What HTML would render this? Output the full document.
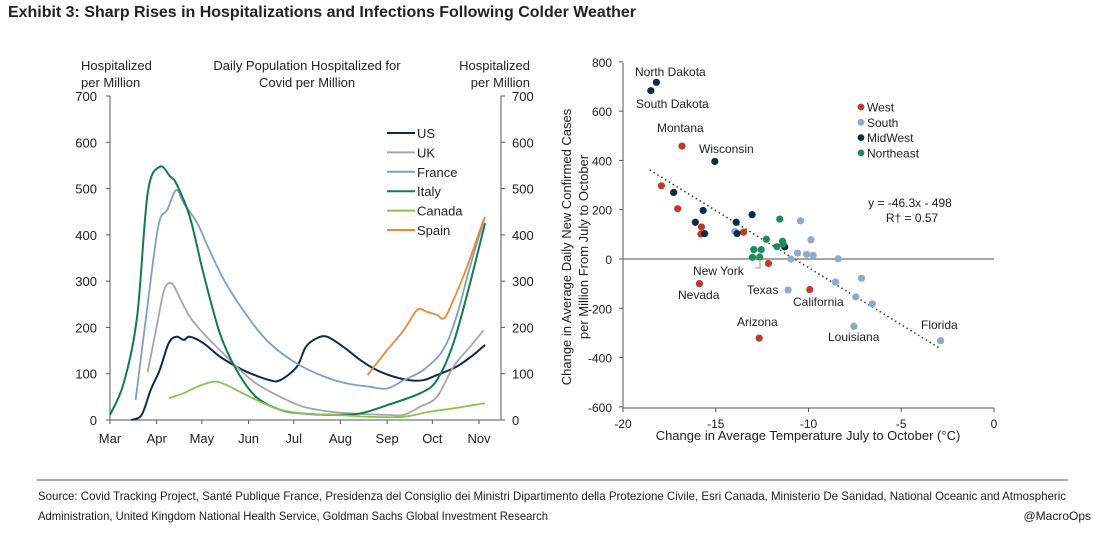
<!DOCTYPE html>
<html><head><meta charset="utf-8"><style>
body{margin:0;background:#fff;width:1094px;height:530px;overflow:hidden;font-family:"Liberation Sans",sans-serif;}
svg text{font-family:"Liberation Sans",sans-serif;fill:#222;}
</style></head><body>
<svg id="s" width="1094" height="530">
<text x="8" y="17" font-size="15.5" font-weight="bold" fill="#222" textLength="628" lengthAdjust="spacingAndGlyphs">Exhibit 3: Sharp Rises in Hospitalizations and Infections Following Colder Weather</text>
<g id="left"></g>
<g id="right"></g>
<line x1="37" y1="480" x2="1068" y2="480" stroke="#555" stroke-width="1"/>
<text x="38" y="500" font-size="12" textLength="1028" lengthAdjust="spacingAndGlyphs" fill="#333">Source: Covid Tracking Project, Santé Publique France, Presidenza del Consiglio dei Ministri Dipartimento della Protezione Civile, Esri Canada, Ministerio De Sanidad, National Oceanic and Atmospheric</text>
<text x="38" y="520" font-size="12" textLength="510" lengthAdjust="spacingAndGlyphs" fill="#333">Administration, United Kingdom National Health Service, Goldman Sachs Global Investment Research</text>
<text x="1091" y="520" font-size="12" text-anchor="end" fill="#555" font-family="Liberation Serif">@MacroOps</text>
</svg>
<script>
// ---- Left chart data (day index since Mar 1) ----
const months=["Mar","Apr","May","Jun","Jul","Aug","Sep","Oct","Nov"];
const monthDays=[0,31,61,92,122,153,184,214,245];
const yTicks=[0,100,200,300,400,500,600,700];
const seriesNames=["US","UK","France","Italy","Canada","Spain"];
const seriesColors=["#0f2a47","#a6a6a6","#7f9fc3","#157a50","#8cc152","#e8893a"];
const usDays=[14,21,27,33,39,44,49,53,62,73,84,93,106,113,124,130,137,144,155,166,177,188,199,208,217,230,241,249];
const usVals=[0,11,65,108,166,180,173,180,166,137,115,101,86,86,115,158,176,180,158,130,108,94,86,86,97,115,140,162];
const ukDays=[25,31,36,41,46,53,62,73,84,97,113,128,146,161,184,195,206,217,228,239,248];
const ukVals=[104,202,281,295,266,223,187,151,115,79,50,29,18,14,11,11,29,50,115,158,194];
const frDays=[17,24,32,38,44,49,58,66,77,93,106,124,142,157,172,184,195,208,221,230,239,249];
const frVals=[43,223,418,454,497,468,425,367,295,216,166,122,94,79,72,68,86,108,151,223,331,439];
const itDays=[0,9,18,25,33,40,44,53,62,73,84,97,113,128,150,166,184,206,217,228,239,249];
const itVals=[11,79,223,490,547,526,511,439,317,187,108,50,22,14,11,14,32,58,86,166,295,425];
const caDays=[39,49,58,69,77,88,102,113,128,150,172,195,212,228,241,249];
const caVals=[47,58,72,83,76,58,36,22,14,11,7,7,18,25,32,36];
const esDays=[171,184,195,204,210,217,222,228,237,248];
const esVals=[97,151,194,238,234,227,220,259,331,432];

// ---- Right chart data ----
const xTicksR=[-20,-15,-10,-5,0];
const yTicksR=[800,600,400,200,0,-200,-400,-600];
const regions=["West","South","MidWest","Northeast"];
const regionColors=["#c0392b","#8fa9cc","#0f2a47","#1e8a5a"];
const westX=[-16.82,-17.93,-17.05,-15.77,-15.8,-13.5,-12.16,-15.88,-12.66,-9.93];
const westY=[458,297,204,130,101,109,-18,-100,-321,-124];
const southX=[-13.97,-10.43,-9.87,-10.59,-10.1,-9.75,-10.95,-8.4,-8.54,-7.14,-7.45,-6.56,-7.55,-11.1,-2.88];
const southY=[112,155,78,24,19,15,0,1,-93,-78,-154,-182,-273,-126,-331];
const mwX=[-18.5,-18.2,-15.05,-17.27,-15.68,-16.1,-15.6,-13.9,-13.85,-13.04,-11.28];
const mwY=[683,717,396,270,197,149,103,149,103,180,49];
const neX=[-11.55,-12.27,-11.4,-11.7,-12.95,-12.55,-13.02,-12.63,-11.37];
const neY=[162,80,72,50,38,38,7,8,61];
const trendSlope=-46.3, trendIntercept=-498, trendRange=[-18.56,-2.91];

const NS="http://www.w3.org/2000/svg";
function mk(p,t,a){const e=document.createElementNS(NS,t);for(const k in a)e.setAttribute(k,a[k]);p.appendChild(e);return e;}
function txt(p,x,y,s,o){const e=mk(p,"text",Object.assign({x:x,y:y,"font-size":13},o||{}));e.textContent=s;return e;}
function smooth(P){let d="M"+P[0][0].toFixed(1)+","+P[0][1].toFixed(1);
 for(let i=0;i<P.length-1;i++){const p0=P[i-1]||P[i],p1=P[i],p2=P[i+1],p3=P[i+2]||p2;
  const c1=[p1[0]+(p2[0]-p0[0])/6,p1[1]+(p2[1]-p0[1])/6],c2=[p2[0]-(p3[0]-p1[0])/6,p2[1]-(p3[1]-p1[1])/6];
  d+=" C"+c1.map(v=>v.toFixed(1))+" "+c2.map(v=>v.toFixed(1))+" "+p2.map(v=>v.toFixed(1));}
 return d;}

// Left
const L=document.getElementById("left");
const lx=d=>110+d*(479-110)/245, ly=v=>420-v*324/700;
mk(L,"line",{x1:110,y1:96,x2:110,y2:420,stroke:"#555"});
mk(L,"line",{x1:501,y1:96,x2:501,y2:420,stroke:"#555"});
mk(L,"line",{x1:110,y1:420,x2:501,y2:420,stroke:"#555"});
yTicks.forEach(v=>{
 const t1=txt(L,97,ly(v)+5,String(v),{"text-anchor":"end"});
 
 
 const t2=txt(L,512,ly(v)+5,String(v));
 
 
 mk(L,"line",{x1:106,y1:ly(v),x2:110,y2:ly(v),stroke:"#555"});
 mk(L,"line",{x1:501,y1:ly(v),x2:505,y2:ly(v),stroke:"#555"});
});
months.forEach((m,i)=>{
 const t=txt(L,lx(monthDays[i]),443,m,{"text-anchor":"middle"});
 
 
 mk(L,"line",{x1:lx(monthDays[i]),y1:420,x2:lx(monthDays[i]),y2:424,stroke:"#555"});
});
[["Hospitalized",81,70,"start"],["per Million",81,87,"start"],["Daily Population Hospitalized for",307,70,"middle"],["Covid per Million",307,87,"middle"],["Hospitalized",530,70,"end"],["per Million",530,87,"end"]].forEach(a=>{
 const t=txt(L,a[1],a[2],a[0],{"text-anchor":a[3]});
 
 
});
const allD=[usDays,ukDays,frDays,itDays,caDays,esDays], allV=[usVals,ukVals,frVals,itVals,caVals,esVals];
seriesNames.forEach((n,i)=>{
 const P=allD[i].map((d,j)=>[lx(d),ly(allV[i][j])]);
 const pl=mk(L,"path",{d:smooth(P),fill:"none",stroke:seriesColors[i],"stroke-width":i==0||i==3?2:1.8,"stroke-linejoin":"round"});
 
 
 const y=133+i*19.4;
 const ln=mk(L,"line",{x1:387,y1:y,x2:415,y2:y,stroke:seriesColors[i],"stroke-width":2});
 
 
 const t=txt(L,417,y+5,n);
 
 
});

// Right
const R=document.getElementById("right");
const rx=v=>994+v*(994-623)/20, ry=v=>259-v*(408-63)/1400;
mk(R,"line",{x1:623,y1:63,x2:623,y2:408,stroke:"#555"});
mk(R,"line",{x1:623,y1:408,x2:994,y2:408,stroke:"#555"});
mk(R,"line",{x1:623,y1:ry(0),x2:994,y2:ry(0),stroke:"#888","stroke-width":1.5});
yTicksR.forEach(v=>{
 const t=txt(R,612,ry(v)+5,String(v),{"text-anchor":"end","font-size":12});
 
 
 mk(R,"line",{x1:619,y1:ry(v),x2:623,y2:ry(v),stroke:"#555"});
});
xTicksR.forEach(v=>{
 const t=txt(R,rx(v),428,String(v),{"text-anchor":"middle","font-size":12});
 
 
 mk(R,"line",{x1:rx(v),y1:408,x2:rx(v),y2:412,stroke:"#555"});
});
const xt=txt(R,808,440,"Change in Average Temperature July to October (°C)",{"text-anchor":"middle"});


const yt1=txt(R,0,0,"Change in Average Daily New Confirmed Cases",{"text-anchor":"middle","transform":"translate(571,247) rotate(-90)"});


const yt2=txt(R,0,0,"per Million From July to October",{"text-anchor":"middle","transform":"translate(588,247) rotate(-90)"});


const tr=mk(R,"line",{x1:rx(trendRange[0]),y1:ry(trendSlope*trendRange[0]+trendIntercept),x2:rx(trendRange[1]),y2:ry(trendSlope*trendRange[1]+trendIntercept),stroke:"#333","stroke-width":1.5,"stroke-dasharray":"1.5,3"});


const RX=[westX,southX,mwX,neX], RY=[westY,southY,mwY,neY];
regions.forEach((r,i)=>{
 RX[i].forEach((x,j)=>{
  const c=mk(R,"circle",{cx:rx(x),cy:ry(RY[i][j]),r:3.6,fill:regionColors[i]});
  
  
 });
 const y=107+i*15.3;
 const d=mk(R,"circle",{cx:861,cy:y,r:3.4,fill:regionColors[i]});
 
 
 const t=txt(R,867,y+4.5,r,{"font-size":12});
 
 
});
[["North Dakota",635,76],["South Dakota",636,108],["Montana",657,132],["Wisconsin",699,153],["New York",693,275],["Nevada",678,299],["Texas",747,294],["California",793,306],["Arizona",737,326],["Louisiana",828,341],["Florida",921,329]].forEach(a=>{
 const t=txt(R,a[1],a[2],a[0],{"font-size":12});
 
 
});
mk(R,"polyline",{points:"755,268 760,268 760,258",fill:"none",stroke:"#999"});
const e1=txt(R,910,207,"y = -46.3x - 498",{"text-anchor":"middle","font-size":12});


const e2=txt(R,912,222,"R† = 0.57",{"text-anchor":"middle","font-size":12});


</script>
</body></html>
